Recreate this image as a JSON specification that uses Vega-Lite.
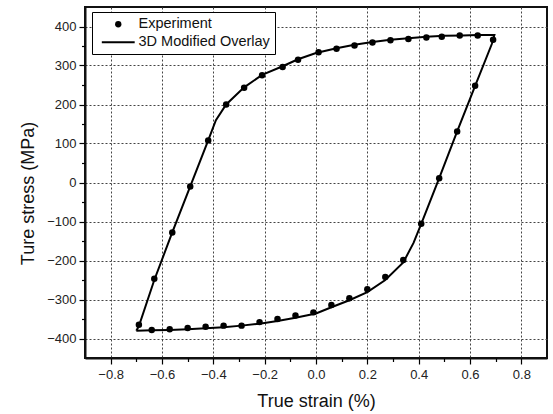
{
  "$schema": "https://vega.github.io/schema/vega-lite/v6.json",
  "width": 462,
  "height": 351,
  "autosize": "none",
  "padding": {"left": 85, "top": 7, "right": 6, "bottom": 56},
  "background": "white",
  "config": {
    "font": "Liberation Sans",
    "view": {"stroke": "#111", "strokeWidth": 2},
    "axis": {
      "domainColor": "#111",
      "domainWidth": 2,
      "tickColor": "black",
      "tickWidth": 1.2,
      "labelColor": "#222",
      "labelFontSize": 13,
      "titleFontSize": 18,
      "titleFontWeight": "normal",
      "titleColor": "#111"
    }
  },
  "datasets": {
    "model": [
      {"i": 1, "x": -0.70, "y": -380},
      {"i": 2, "x": -0.69, "y": -368},
      {"i": 3, "x": -0.63, "y": -250},
      {"i": 4, "x": -0.56, "y": -128},
      {"i": 5, "x": -0.49, "y": -10},
      {"i": 6, "x": -0.42, "y": 108},
      {"i": 7, "x": -0.39, "y": 160},
      {"i": 8, "x": -0.35, "y": 200},
      {"i": 9, "x": -0.28, "y": 244},
      {"i": 10, "x": -0.21, "y": 276},
      {"i": 11, "x": -0.13, "y": 298},
      {"i": 12, "x": -0.07, "y": 316},
      {"i": 13, "x": 0.0, "y": 332},
      {"i": 14, "x": 0.08, "y": 344},
      {"i": 15, "x": 0.15, "y": 353},
      {"i": 16, "x": 0.22, "y": 360},
      {"i": 17, "x": 0.29, "y": 366},
      {"i": 18, "x": 0.36, "y": 370},
      {"i": 19, "x": 0.43, "y": 374},
      {"i": 20, "x": 0.50, "y": 376},
      {"i": 21, "x": 0.57, "y": 377},
      {"i": 22, "x": 0.63, "y": 378},
      {"i": 23, "x": 0.695, "y": 378},
      {"i": 24, "x": 0.685, "y": 355},
      {"i": 25, "x": 0.62, "y": 248},
      {"i": 26, "x": 0.55, "y": 131},
      {"i": 27, "x": 0.48, "y": 11},
      {"i": 28, "x": 0.41, "y": -106},
      {"i": 29, "x": 0.38, "y": -155},
      {"i": 30, "x": 0.34, "y": -205},
      {"i": 31, "x": 0.27, "y": -250},
      {"i": 32, "x": 0.20, "y": -281},
      {"i": 33, "x": 0.13, "y": -302},
      {"i": 34, "x": 0.06, "y": -320},
      {"i": 35, "x": 0.0, "y": -336},
      {"i": 36, "x": -0.08, "y": -347},
      {"i": 37, "x": -0.15, "y": -355},
      {"i": 38, "x": -0.22, "y": -362},
      {"i": 39, "x": -0.29, "y": -367},
      {"i": 40, "x": -0.36, "y": -371},
      {"i": 41, "x": -0.43, "y": -374},
      {"i": 42, "x": -0.50, "y": -376},
      {"i": 43, "x": -0.57, "y": -378},
      {"i": 44, "x": -0.64, "y": -379},
      {"i": 45, "x": -0.70, "y": -380}
    ],
    "exp": [
      {"series": "Experiment", "x": -0.49, "y": -10},
      {"series": "Experiment", "x": -0.42, "y": 108},
      {"series": "Experiment", "x": -0.35, "y": 200},
      {"series": "Experiment", "x": -0.28, "y": 243},
      {"series": "Experiment", "x": -0.21, "y": 275},
      {"series": "Experiment", "x": -0.13, "y": 296},
      {"series": "Experiment", "x": -0.07, "y": 315},
      {"series": "Experiment", "x": 0.01, "y": 334},
      {"series": "Experiment", "x": 0.08, "y": 343},
      {"series": "Experiment", "x": 0.15, "y": 351},
      {"series": "Experiment", "x": 0.22, "y": 359},
      {"series": "Experiment", "x": 0.29, "y": 365},
      {"series": "Experiment", "x": 0.36, "y": 368},
      {"series": "Experiment", "x": 0.43, "y": 372},
      {"series": "Experiment", "x": 0.49, "y": 374},
      {"series": "Experiment", "x": 0.56, "y": 377},
      {"series": "Experiment", "x": 0.63, "y": 377},
      {"series": "Experiment", "x": 0.69, "y": 366},
      {"series": "Experiment", "x": 0.62, "y": 248},
      {"series": "Experiment", "x": 0.55, "y": 131},
      {"series": "Experiment", "x": 0.48, "y": 11},
      {"series": "Experiment", "x": 0.41, "y": -106},
      {"series": "Experiment", "x": 0.34, "y": -199},
      {"series": "Experiment", "x": 0.27, "y": -242},
      {"series": "Experiment", "x": 0.20, "y": -274},
      {"series": "Experiment", "x": 0.13, "y": -297},
      {"series": "Experiment", "x": 0.06, "y": -314},
      {"series": "Experiment", "x": -0.01, "y": -333},
      {"series": "Experiment", "x": -0.08, "y": -341},
      {"series": "Experiment", "x": -0.15, "y": -350},
      {"series": "Experiment", "x": -0.22, "y": -358},
      {"series": "Experiment", "x": -0.29, "y": -367},
      {"series": "Experiment", "x": -0.36, "y": -367},
      {"series": "Experiment", "x": -0.43, "y": -370},
      {"series": "Experiment", "x": -0.50, "y": -373},
      {"series": "Experiment", "x": -0.57, "y": -376},
      {"series": "Experiment", "x": -0.64, "y": -378},
      {"series": "Experiment", "x": -0.69, "y": -365},
      {"series": "Experiment", "x": -0.63, "y": -247},
      {"series": "Experiment", "x": -0.56, "y": -128}
    ]
  },
  "layer": [
    {
      "data": {"name": "model"},
      "mark": {"type": "line", "color": "black", "strokeWidth": 2},
      "encoding": {
        "x": {
          "field": "x", "type": "quantitative",
          "scale": {"domain": [-0.9, 0.9], "nice": false, "zero": false},
          "axis": {
            "values": [-0.8, -0.6, -0.4, -0.2, 0, 0.2, 0.4, 0.6, 0.8],
            "format": ".1f",
            "grid": true, "gridDash": [2, 2], "gridColor": "#444", "gridOpacity": 1,
            "tickSize": 6, "labelPadding": 4,
            "title": "True strain (%)", "titlePadding": 11
          }
        },
        "y": {
          "field": "y", "type": "quantitative",
          "scale": {"domain": [-450, 450], "nice": false, "zero": false},
          "axis": {
            "values": [-400, -300, -200, -100, 0, 100, 200, 300, 400],
            "grid": true, "gridDash": [2, 2], "gridColor": "#444", "gridOpacity": 1,
            "tickSize": 6, "labelPadding": 3,
            "title": "Ture stress (MPa)", "titlePadding": 9, "titleY": 186
          }
        },
        "order": {"field": "i", "type": "quantitative"}
      }
    },
    {
      "data": {"name": "exp"},
      "mark": {"type": "point", "filled": true, "color": "black", "opacity": 1, "size": 42},
      "encoding": {
        "x": {
          "field": "x", "type": "quantitative",
          "scale": {"domain": [-0.9, 0.9], "nice": false, "zero": false},
          "axis": {
            "orient": "bottom",
            "values": [-0.7, -0.5, -0.3, -0.1, 0.1, 0.3, 0.5, 0.7],
            "labels": false, "domain": false, "grid": false, "tickSize": 3.5, "title": null
          }
        },
        "y": {
          "field": "y", "type": "quantitative",
          "scale": {"domain": [-450, 450], "nice": false, "zero": false},
          "axis": {
            "orient": "left",
            "values": [-350, -250, -150, -50, 50, 150, 250, 350],
            "labels": false, "domain": false, "grid": false, "tickSize": 3.5, "title": null
          }
        },
        "shape": {
          "field": "series", "type": "nominal",
          "scale": {"domain": ["Experiment", "3D Modified Overlay"], "range": ["circle", "M-5.2,-0.32H5.2V0.32H-5.2Z"]},
          "legend": {
            "title": null,
            "orient": "none",
            "legendX": 7,
            "legendY": 5,
            "strokeColor": "black",
            "fillColor": "white",
            "padding": 5,
            "symbolSize": 40,
            "symbolFillColor": "black",
            "symbolStrokeWidth": 0,
            "symbolOffset": 14,
            "labelOffset": 13,
            "labelFontSize": 14.5,
            "labelColor": "#111",
            "rowPadding": 3
          }
        }
      }
    }
  ],
  "resolve": {
    "scale": {"x": "independent", "y": "independent"},
    "axis": {"x": "independent", "y": "independent"}
  }
}
